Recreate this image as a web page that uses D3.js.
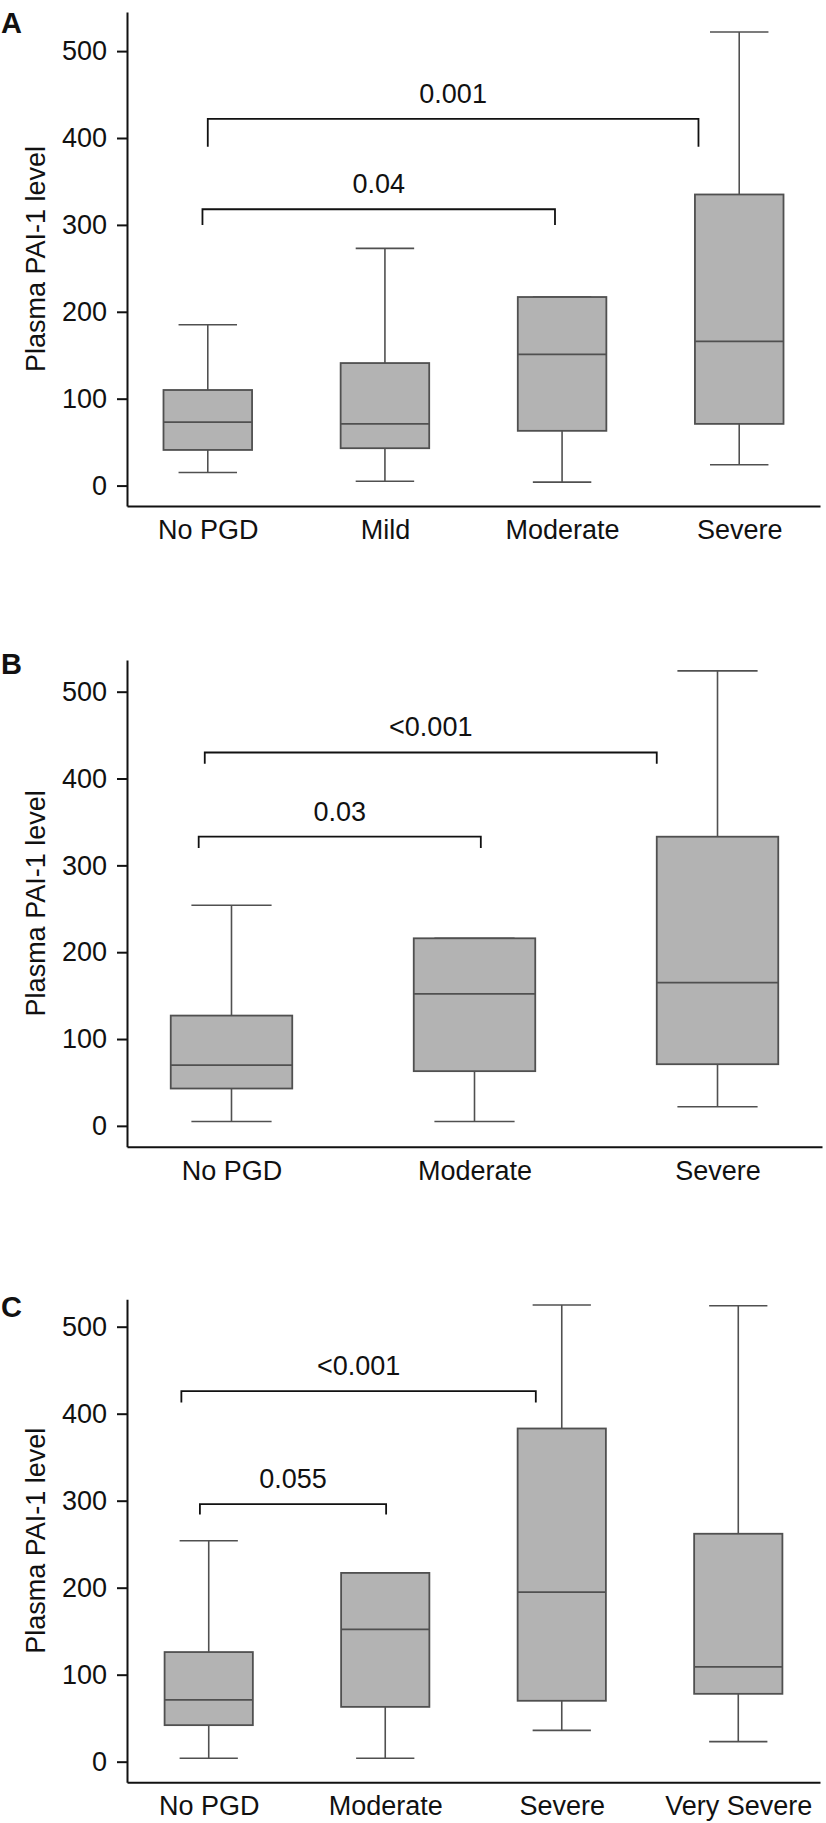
<!DOCTYPE html>
<html>
<head>
<meta charset="utf-8">
<script src="https://cdn.jsdelivr.net/npm/d3@7"></script>
<style>
  body { margin: 0; background: #fff; }
  svg text { font-family: "Liberation Sans", Arial, sans-serif; fill: #111; }
</style>
</head>
<body>
<script>
// DATA
// panel A
const catsA = ["No PGD", "Mild", "Moderate", "Severe"];
const lowA  = [15, 5, 4, 24];
const q1A   = [41, 43, 63, 71];
const medA  = [73, 71, 151, 166];
const q3A   = [110, 141, 217, 335];
const highA = [185, 273, 217, 522];
const bracketsA = [
  { label: "0.001", from: 0, to: 2.77, y: 422, leg: 390 },
  { label: "0.04", from: -0.03, to: 1.96, y: 318, leg: 300 }
];

// panel B
const catsB = ["No PGD", "Moderate", "Severe"];
const lowB  = [5, 5, 22];
const q1B   = [43, 63, 71];
const medB  = [70, 152, 165];
const q3B   = [127, 216, 333];
const highB = [254, 216, 524];
const bracketsB = [
  { label: "<0.001", from: -0.11, to: 1.75, y: 430, leg: 417 },
  { label: "0.03", from: -0.135, to: 1.026, y: 333, leg: 320 }
];

// panel C
const catsC = ["No PGD", "Moderate", "Severe", "Very Severe"];
const lowC  = [4, 4, 36, 23];
const q1C   = [42, 63, 70, 78];
const medC  = [71, 152, 195, 109];
const q3C   = [126, 217, 383, 262];
const highC = [254, 217, 525, 524];
const bracketsC = [
  { label: "<0.001", from: -0.155, to: 1.853, y: 426, leg: 413 },
  { label: "0.055", from: -0.05, to: 1.005, y: 296, leg: 284 }
];

const yTicks = [0, 100, 200, 300, 400, 500];
const yLabel = "Plasma PAI-1 level";

// LAYOUT
const panels = [
  { letter: "A", letterY: 33, top: 12, bottom: 506, right: 820, yMin: -23.5, yMax: 545, pad: 0.456,
    cats: catsA, low: lowA, q1: q1A, med: medA, q3: q3A, high: highA, brackets: bracketsA },
  { letter: "B", letterY: 674, top: 660, bottom: 1146.7, right: 822, yMin: -24, yMax: 536.5, pad: 0.43,
    cats: catsB, low: lowB, q1: q1B, med: medB, q3: q3B, high: highB, brackets: bracketsB },
  { letter: "C", letterY: 1317, top: 1299.3, bottom: 1782.3, right: 820, yMin: -23.7, yMax: 531.5, pad: 0.463,
    cats: catsC, low: lowC, q1: q1C, med: medC, q3: q3C, high: highC, brackets: bracketsC }
];
const left = 127;
const fontSize = 27;
const boxFill = "#b3b3b3";
const boxStroke = "#505050";

const svg = d3.select("body").append("svg")
  .attr("width", 826)
  .attr("height", 1823);

const drawPanel = p => {
  const g = svg.append("g");

  const x = d3.scalePoint()
    .domain(p.cats)
    .range([left, p.right])
    .padding(p.pad);
  const y = d3.scaleLinear()
    .domain([p.yMin, p.yMax])
    .range([p.bottom, p.top]);

  const step = x.step();
  const xIdx = i => x(p.cats[0]) + i * step;
  const boxW = step * 0.5;
  const capW = step * 0.33;

  // y axis
  const yAxis = g.append("g")
    .attr("transform", `translate(${left},0)`)
    .call(d3.axisLeft(y).tickValues(yTicks).tickSize(10).tickSizeOuter(0).tickPadding(10));
  yAxis.select(".domain").attr("stroke", "#111").attr("stroke-width", 2);
  yAxis.selectAll(".tick line").attr("stroke", "#111").attr("stroke-width", 2);
  yAxis.selectAll("text").attr("font-size", fontSize).attr("font-family", null);

  // x axis
  const xAxis = g.append("g")
    .attr("transform", `translate(0,${p.bottom})`)
    .call(d3.axisBottom(x).tickSize(0).tickSizeOuter(0).tickPadding(14));
  xAxis.select(".domain").attr("stroke", "#111").attr("stroke-width", 2);
  xAxis.selectAll("text").attr("font-size", fontSize).attr("font-family", null);

  // axis label
  g.append("text")
    .attr("transform", `translate(45,${(p.top + p.bottom) / 2}) rotate(-90)`)
    .attr("text-anchor", "middle")
    .attr("font-size", fontSize)
    .text(yLabel);

  // panel letter
  g.append("text")
    .attr("x", 1)
    .attr("y", p.letterY)
    .attr("font-size", 29)
    .attr("font-weight", "bold")
    .text(p.letter);

  const rows = p.cats.map((c, i) => ({
    cat: c, low: p.low[i], q1: p.q1[i], med: p.med[i], q3: p.q3[i], high: p.high[i]
  }));

  const box = g.selectAll(".box")
    .data(rows)
    .enter()
    .append("g")
    .attr("class", "box");

  // whiskers
  box.append("line")
    .attr("x1", d => x(d.cat)).attr("x2", d => x(d.cat))
    .attr("y1", d => y(d.low)).attr("y2", d => y(d.q1))
    .attr("stroke", boxStroke).attr("stroke-width", 1.6);
  box.append("line")
    .attr("x1", d => x(d.cat)).attr("x2", d => x(d.cat))
    .attr("y1", d => y(d.q3)).attr("y2", d => y(d.high))
    .attr("stroke", boxStroke).attr("stroke-width", 1.6);
  box.append("line")
    .attr("x1", d => x(d.cat) - capW / 2).attr("x2", d => x(d.cat) + capW / 2)
    .attr("y1", d => y(d.low)).attr("y2", d => y(d.low))
    .attr("stroke", boxStroke).attr("stroke-width", 1.6);
  box.append("line")
    .attr("x1", d => x(d.cat) - capW / 2).attr("x2", d => x(d.cat) + capW / 2)
    .attr("y1", d => y(d.high)).attr("y2", d => y(d.high))
    .attr("stroke", boxStroke).attr("stroke-width", 1.6);

  // box
  box.append("rect")
    .attr("x", d => x(d.cat) - boxW / 2)
    .attr("width", boxW)
    .attr("y", d => y(d.q3))
    .attr("height", d => y(d.q1) - y(d.q3))
    .attr("fill", boxFill)
    .attr("stroke", boxStroke)
    .attr("stroke-width", 1.8);

  // median
  box.append("line")
    .attr("x1", d => x(d.cat) - boxW / 2).attr("x2", d => x(d.cat) + boxW / 2)
    .attr("y1", d => y(d.med)).attr("y2", d => y(d.med))
    .attr("stroke", boxStroke).attr("stroke-width", 1.8);

  // significance brackets
  const br = g.selectAll(".bracket")
    .data(p.brackets)
    .enter()
    .append("g")
    .attr("class", "bracket");

  br.append("path")
    .attr("d", d => `M${xIdx(d.from)},${y(d.leg)}V${y(d.y)}H${xIdx(d.to)}V${y(d.leg)}`)
    .attr("fill", "none")
    .attr("stroke", "#111")
    .attr("stroke-width", 1.8);

  br.append("text")
    .attr("x", d => (xIdx(d.from) + xIdx(d.to)) / 2)
    .attr("y", d => y(d.y) - 16)
    .attr("text-anchor", "middle")
    .attr("font-size", fontSize)
    .text(d => d.label);
};

panels.forEach(drawPanel);
</script>
</body>
</html>
